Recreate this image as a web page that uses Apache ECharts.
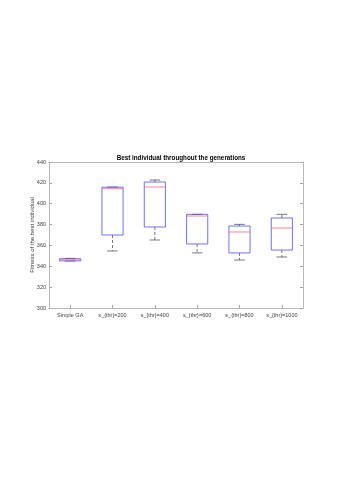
<!DOCTYPE html>
<html><head><meta charset="utf-8">
<script src="https://cdn.jsdelivr.net/npm/echarts@6/dist/echarts.min.js"></script>
<style>html,body{margin:0;padding:0;background:#fff}#c{width:339px;height:477px}</style>
</head><body><div id="c"></div>
<script>
const categories = ['Simple GA','s_{thr}=200','s_{thr}=400','s_{thr}=600','s_{thr}=800','s_{thr}=1000'];
const lowerWhisker = [345.0, 354.7, 365.2, 352.8, 346.0, 348.9];
const q1 = [345.2, 370.0, 377.7, 361.4, 352.8, 355.6];
const median = [346.2, 414.4, 416.0, 388.2, 372.9, 376.7];
const q3 = [347.3, 415.8, 420.8, 389.8, 378.6, 386.3];
const upperWhisker = [347.6, 416.0, 422.7, 389.8, 380.2, 389.8];
const yTicks = [300, 320, 340, 360, 380, 400, 420, 440];

const data = categories.map((c, i) => [i, lowerWhisker[i], q1[i], median[i], q3[i], upperWhisker[i]]);
const font = 'Liberation Sans, Arial, sans-serif';
const axisCol = '#a6a6a6';
const txtCol = '#404040';

function renderItem(params, api) {
  const x = api.value(0);
  const pMin = api.coord([x, api.value(1)]);
  const pQ1 = api.coord([x, api.value(2)]);
  const pMed = api.coord([x, api.value(3)]);
  const pQ3 = api.coord([x, api.value(4)]);
  const pMax = api.coord([x, api.value(5)]);
  const band = api.size([1, 0])[0];
  const bw = band * 0.5;
  const cw = band * 0.25;
  const cx = pMed[0];
  const wStyle = {stroke: '#555', lineWidth: 0.8, lineDash: [3, 2]};
  const cStyle = {stroke: '#555', lineWidth: 0.8};
  return {
    type: 'group',
    children: [
      {type: 'line', shape: {x1: cx, y1: pQ3[1], x2: cx, y2: pMax[1]}, style: wStyle},
      {type: 'line', shape: {x1: cx, y1: pQ1[1], x2: cx, y2: pMin[1]}, style: wStyle},
      {type: 'line', shape: {x1: cx - cw/2, y1: pMax[1], x2: cx + cw/2, y2: pMax[1]}, style: cStyle},
      {type: 'line', shape: {x1: cx - cw/2, y1: pMin[1], x2: cx + cw/2, y2: pMin[1]}, style: cStyle},
      {type: 'rect', shape: {x: cx - bw/2, y: pQ3[1], width: bw, height: pQ1[1] - pQ3[1]}, style: {fill: 'none', stroke: '#4d4dff', lineWidth: 0.8}},
      {type: 'line', shape: {x1: cx - bw/2, y1: pMed[1], x2: cx + bw/2, y2: pMed[1]}, style: {stroke: '#ff6666', lineWidth: 0.8}}
    ]
  };
}

const chart = echarts.init(document.getElementById('c'));
chart.setOption({
  animation: false,
  backgroundColor: '#fff',
  title: {
    text: 'Best individual throughout the generations',
    left: 176, top: 150, textAlign: 'center',
    textStyle: {fontFamily: font, fontSize: 6.3, fontWeight: 'bold', color: '#000'}
  },
  grid: {left: 49, right: 36, top: 162, bottom: 169},
  xAxis: [{
    type: 'category', data: categories, boundaryGap: true,
    axisLine: {show: true, lineStyle: {color: axisCol, width: 0.8}},
    axisTick: {show: true, inside: true, alignWithLabel: true, length: 3, lineStyle: {color: axisCol}},
    axisLabel: {fontFamily: font, fontSize: 5.5, color: txtCol, margin: 4, interval: 0},
    splitLine: {show: false}
  }, {
    type: 'category', data: categories, position: 'top',
    axisLine: {show: true, lineStyle: {color: axisCol, width: 0.8}},
    axisTick: {show: false}, axisLabel: {show: false}
  }],
  yAxis: [{
    type: 'value', min: 300, max: 440, interval: 20,
    name: 'Fitness of the best individual', nameLocation: 'middle', nameGap: 14,
    nameMoveOverlap: false,
    nameTextStyle: {fontFamily: font, fontSize: 6, color: txtCol},
    axisLine: {show: true, lineStyle: {color: axisCol, width: 0.8}},
    axisTick: {show: true, inside: true, length: 3, lineStyle: {color: axisCol}},
    axisLabel: {fontFamily: font, fontSize: 5.5, color: txtCol, margin: 3,
      customValues: yTicks},
    splitLine: {show: false}
  }, {
    type: 'value', min: 300, max: 440, interval: 20, position: 'right',
    axisLine: {show: true, lineStyle: {color: axisCol, width: 0.8}},
    axisTick: {show: true, inside: true, length: 3, lineStyle: {color: axisCol}},
    axisLabel: {show: false}, splitLine: {show: false}
  }],
  series: [{
    type: 'custom', renderItem: renderItem, data: data,
    encode: {x: 0, y: [1, 2, 3, 4, 5]}, clip: false
  }]
});
</script></body></html>
